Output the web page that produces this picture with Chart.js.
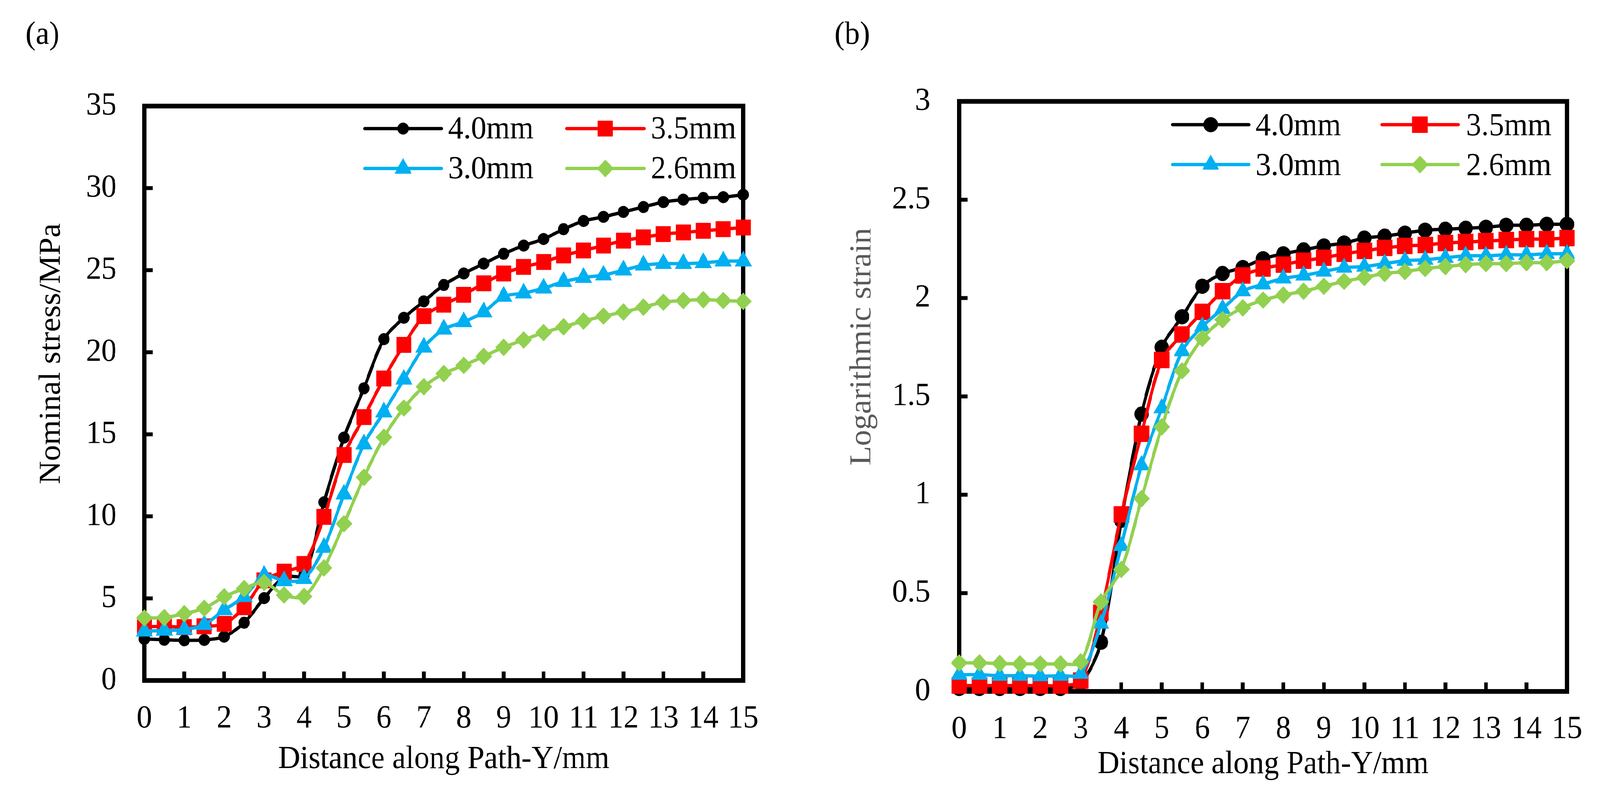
<!DOCTYPE html>
<html>
<head>
<meta charset="utf-8">
<script src="https://cdn.jsdelivr.net/npm/chart.js@4/dist/chart.umd.min.js"></script>
<style>
html,body{margin:0;padding:0;background:#ffffff;overflow:hidden;}
#wrap{position:relative;width:4312px;height:2034px;background:#ffffff;transform-origin:0 0;}
.panel{position:absolute;top:0;width:2156px;height:2034px;}
</style>
</head>
<body>
<div id="wrap">
  <div class="panel" style="left:0px"><canvas id="chartA" width="2156" height="2034"></canvas></div>
  <div class="panel" style="left:2156px"><canvas id="chartB" width="2156" height="2034"></canvas></div>
</div>
<script>
// ---------------- DATA ----------------
const distance = [0,0.5,1,1.5,2,2.5,3,3.5,4,4.5,5,5.5,6,6.5,7,7.5,8,8.5,9,9.5,10,10.5,11,11.5,12,12.5,13,13.5,14,14.5,15];
const seriesLabels = ['4.0mm','3.5mm','3.0mm','2.6mm'];

// (a) Nominal stress / MPa
const stress40 = [2.53,2.48,2.45,2.47,2.67,3.52,5.02,6.3,6.45,10.86,14.8,17.8,20.8,22.1,23.1,24.1,24.8,25.4,26.0,26.5,26.9,27.5,28.0,28.25,28.55,28.85,29.15,29.3,29.4,29.45,29.6];
const stress35 = [3.27,3.3,3.25,3.3,3.45,4.46,6.1,6.63,7.1,9.97,13.74,16.05,18.4,20.45,22.2,22.9,23.5,24.2,24.8,25.2,25.5,25.9,26.2,26.5,26.8,27.0,27.2,27.3,27.4,27.5,27.6];
const stress30 = [3.0,3.05,3.1,3.4,4.3,5.1,6.4,6.07,6.2,8.1,11.35,14.4,16.35,18.35,20.3,21.4,21.85,22.45,23.4,23.6,23.9,24.3,24.55,24.7,25.0,25.3,25.4,25.4,25.45,25.55,25.55];
const stress26 = [3.81,3.83,4.07,4.4,5.1,5.6,5.97,5.21,5.12,6.86,9.55,12.38,14.82,16.6,17.9,18.7,19.2,19.75,20.3,20.75,21.2,21.55,21.9,22.2,22.45,22.75,23.05,23.15,23.2,23.15,23.1];

// (b) Logarithmic strain
const strain40 = [0.015,0.015,0.015,0.015,0.015,0.015,0.04,0.25,0.87,1.41,1.75,1.905,2.06,2.125,2.155,2.2,2.225,2.245,2.265,2.28,2.305,2.315,2.33,2.345,2.35,2.355,2.36,2.37,2.37,2.375,2.375];
const strain35 = [0.03,0.03,0.03,0.03,0.03,0.03,0.055,0.4,0.9,1.31,1.685,1.815,1.93,2.035,2.115,2.15,2.17,2.19,2.205,2.225,2.24,2.255,2.265,2.27,2.28,2.285,2.29,2.295,2.3,2.3,2.305];
const strain30 = [0.085,0.085,0.08,0.08,0.078,0.08,0.09,0.345,0.74,1.15,1.44,1.73,1.855,1.945,2.035,2.07,2.1,2.115,2.135,2.155,2.16,2.175,2.19,2.195,2.205,2.215,2.215,2.22,2.22,2.225,2.225];
const strain26 = [0.145,0.145,0.142,0.14,0.14,0.14,0.15,0.455,0.62,0.98,1.345,1.63,1.795,1.89,1.95,1.99,2.015,2.035,2.06,2.085,2.105,2.125,2.135,2.15,2.16,2.17,2.175,2.175,2.18,2.18,2.19];

// tick values
const xTickValues = [0,1,2,3,4,5,6,7,8,9,10,11,12,13,14,15];
const stressTickValues = [0,5,10,15,20,25,30,35];
const strainTickValues = [0,0.5,1,1.5,2,2.5,3];

// ---------------- STYLE ----------------
const seriesColors = ['#000000','#FF0000','#00B0F0','#92D050'];
const seriesMarkers = ['circle','rect','triangle','rectRot'];
const FONT_FAMILY = "'Liberation Serif','Times New Roman',Times,serif";
const FS = 82;

// fit the 4312x2034 design to the actual viewport
(function(){
  const kx = window.innerWidth / 4312, ky = window.innerHeight / 2034;
  if (kx > 0 && ky > 0 && (Math.abs(kx - 1) > 0.002 || Math.abs(ky - 1) > 0.002)) {
    document.getElementById('wrap').style.transform = 'scale(' + kx + ',' + ky + ')';
  }
})();

function drawMarker(ctx, style, x, y, r, color) {
  ctx.save();
  ctx.fillStyle = color; ctx.strokeStyle = color; ctx.lineWidth = 1;
  ctx.beginPath();
  if (style === 'circle') {
    ctx.arc(x, y, r, 0, Math.PI * 2);
  } else if (style === 'rect') {
    const s = r * Math.SQRT1_2; ctx.rect(x - s, y - s, 2 * s, 2 * s);
  } else if (style === 'triangle') {
    const a = 2 * Math.PI / 3;
    ctx.moveTo(x, y - r);
    ctx.lineTo(x + Math.sin(a) * r, y - Math.cos(a) * r);
    ctx.lineTo(x + Math.sin(2 * a) * r, y - Math.cos(2 * a) * r);
  } else {
    ctx.moveTo(x - r, y); ctx.lineTo(x, y - r); ctx.lineTo(x + r, y); ctx.lineTo(x, y + r);
  }
  ctx.closePath(); ctx.fill(); ctx.stroke();
  ctx.restore();
}

// frame box + inward tick marks
const framePlugin = {
  id: 'frame',
  beforeDatasetsDraw(chart, args, o) {
    const {left, top, right, bottom} = chart.chartArea;
    const ctx = chart.ctx;
    const xs = chart.scales.x, ys = chart.scales.y;
    ctx.save();
    ctx.strokeStyle = o.color;
    ctx.lineWidth = o.tickWidth;
    ctx.lineCap = 'butt';
    ctx.beginPath();
    o.xTicks.forEach(v => {
      const px = xs.getPixelForValue(v);
      if (px > left + 2 && px < right - 2) { ctx.moveTo(px, bottom); ctx.lineTo(px, bottom - o.tickLen); }
    });
    o.yTicks.forEach(v => {
      const py = ys.getPixelForValue(v);
      if (py > top + 2 && py < bottom - 2) { ctx.moveTo(left, py); ctx.lineTo(left + o.tickLen, py); }
    });
    ctx.stroke();
    ctx.lineWidth = o.width; ctx.lineJoin = 'miter';
    ctx.strokeRect(left, top, right - left, bottom - top);
    ctx.restore();
  }
};

const yTitlePlugin = {
  id: 'yTitle',
  afterDraw(chart, args, o) {
    const ctx = chart.ctx;
    ctx.save();
    ctx.translate(o.x, o.y);
    ctx.rotate(-Math.PI / 2);
    ctx.font = FS + 'px ' + FONT_FAMILY;
    ctx.fillStyle = o.color;
    ctx.textAlign = 'center'; ctx.textBaseline = 'middle';
    ctx.fillText(o.text, 0, 0);
    ctx.restore();
  }
};

const lineLegendPlugin = {
  id: 'lineLegend',
  afterDraw(chart, args, o) {
    const ctx = chart.ctx;
    chart.data.datasets.forEach((ds, i) => {
      const y = o.rows[Math.floor(i / 2)];
      const col = o.cols[i % 2];
      ctx.save();
      ctx.strokeStyle = ds.borderColor; ctx.lineWidth = ds.borderWidth; ctx.lineCap = 'round';
      ctx.beginPath(); ctx.moveTo(col[0], y); ctx.lineTo(col[1], y); ctx.stroke();
      drawMarker(ctx, ds.pointStyle, (col[0] + col[1]) / 2, y, ds.pointRadius, ds.pointBackgroundColor);
      ctx.fillStyle = '#000000';
      ctx.font = FS + 'px ' + FONT_FAMILY;
      ctx.textAlign = 'left'; ctx.textBaseline = 'alphabetic';
      ctx.fillText(ds.label, col[2], y + o.baseline);
      ctx.restore();
    });
  }
};

function makeDatasets(seriesList, radii) {
  return seriesList.map((vals, i) => ({
    label: seriesLabels[i],
    data: distance.map((x, j) => ({x: x, y: vals[j]})),
    borderColor: seriesColors[i],
    backgroundColor: seriesColors[i],
    pointBackgroundColor: seriesColors[i],
    pointBorderColor: seriesColors[i],
    pointStyle: seriesMarkers[i],
    pointRadius: radii[i],
    pointHoverRadius: radii[i],
    pointBorderWidth: 1,
    borderWidth: 8.5,
    tension: 0.3,
    fill: false,
    clip: false,
    order: 4 - i
  }));
}

function makeChart(id, cfg) {
  const font = {family: FONT_FAMILY, size: FS};
  return new Chart(document.getElementById(id), {
    type: 'line',
    data: {datasets: makeDatasets(cfg.series, cfg.radii)},
    options: {
      responsive: false,
      animation: false,
      devicePixelRatio: 1,
      layout: {padding: {left: cfg.padLeft, right: cfg.padRight, top: 41, bottom: 0}},
      plugins: {
        legend: {display: false},
        tooltip: {enabled: false},
        title: {display: true, text: cfg.panel, align: 'start', color: '#000000',
                font: {family: FONT_FAMILY, size: FS, weight: 'normal'},
                padding: {top: 0, bottom: cfg.titleGap}},
        frame: {width: 12, color: '#000000', tickWidth: 10, tickLen: 23, xTicks: xTickValues, yTicks: cfg.yTicks},
        yTitle: cfg.yTitle,
        lineLegend: cfg.legend
      },
      scales: {
        x: {
          type: 'linear', min: 0, max: 15,
          afterBuildTicks: s => { s.ticks = xTickValues.map(v => ({value: v})); },
          afterFit: s => { s.height = cfg.xHeight; },
          ticks: {color: '#000000', font: font, padding: cfg.xTickPad, autoSkip: false, maxRotation: 0, minRotation: 0,
                  callback: v => String(v)},
          grid: {display: false, drawOnChartArea: false, drawTicks: false},
          border: {display: false},
          title: {display: true, text: 'Distance along Path-Y/mm', color: '#000000', font: font,
                  padding: {top: 0, bottom: cfg.xTitlePad}}
        },
        y: {
          type: 'linear', min: cfg.yMin, max: cfg.yMax,
          afterBuildTicks: s => { s.ticks = cfg.yTicks.map(v => ({value: v})); },
          afterFit: s => { s.width = cfg.yWidth; },
          ticks: {color: '#000000', font: font, padding: cfg.yTickPad, callback: v => String(v)},
          grid: {display: false, drawOnChartArea: false, drawTicks: false},
          border: {display: false},
          title: {display: false}
        }
      }
    },
    plugins: [framePlugin, yTitlePlugin, lineLegendPlugin]
  });
}

makeChart('chartA', {
  panel: '(a)',
  series: [stress40, stress35, stress30, stress26],
  radii: [15, 28, 26, 22],
  padLeft: 69, padRight: 153, titleGap: 132,
  yWidth: 320, xHeight: 293,
  xTickPad: 49, xTitlePad: 41, yTickPad: 75,
  yMin: 0, yMax: 35, yTicks: stressTickValues,
  yTitle: {text: 'Nominal stress/MPa', x: 139, y: 905, color: '#000000'},
  legend: {rows: [329, 431], cols: [[983, 1190, 1208], [1527, 1736, 1754]], baseline: 25}
});

makeChart('chartB', {
  panel: '(b)',
  series: [strain40, strain35, strain30, strain26],
  radii: [19, 29, 25, 22],
  padLeft: 93, padRight: 76, titleGap: 120,
  yWidth: 336, xHeight: 265,
  xTickPad: 48, xTitlePad: 28, yTickPad: 78,
  yMin: 0, yMax: 3, yTicks: strainTickValues,
  yTitle: {text: 'Logarithmic strain', x: 168, y: 887, color: '#595959'},
  legend: {rows: [319, 421], cols: [[1004, 1210, 1228], [1568, 1774, 1795]], baseline: 27}
});
</script>
</body>
</html>
